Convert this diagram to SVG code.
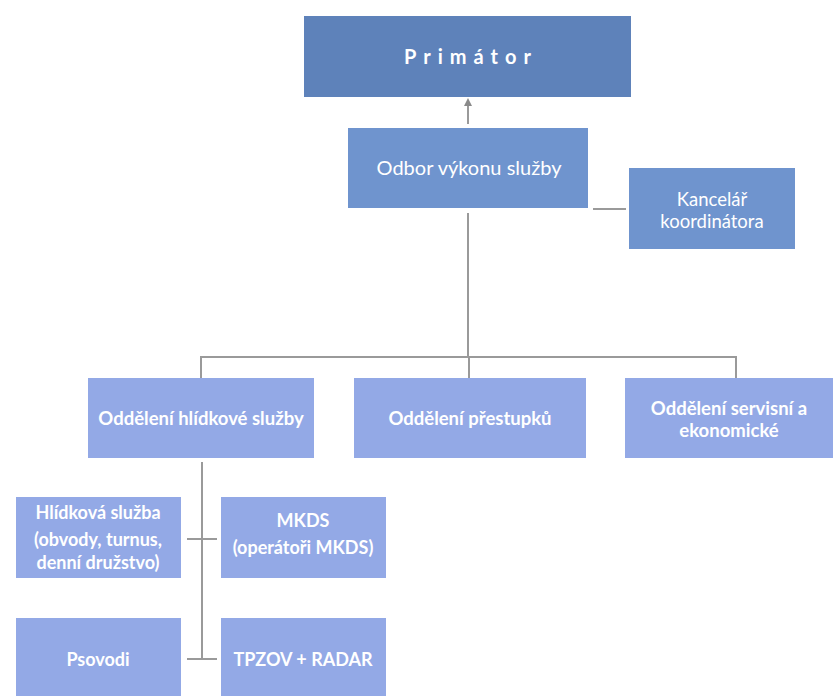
<svg xmlns="http://www.w3.org/2000/svg" width="835" height="696" viewBox="0 0 835 696">
<defs>
<style>
.top{fill:#5e82ba;}
.mid{fill:#6f94ce;}
.low{fill:#93a9e6;}
.t{font-family:Lato,"Open Sans","Liberation Sans",sans-serif;fill:#ffffff;text-anchor:middle;}
.tb{font-weight:bold;}
.ln{stroke:#9a9a9a;stroke-width:2;fill:none;}
</style>
<marker id="ah" viewBox="0 0 6 6" refX="3" refY="3" markerWidth="4" markerHeight="4" orient="auto">
<path d="M0,0 L6,3 L0,6 z" fill="#8a8a8a"/>
</marker>
</defs>
<rect width="835" height="696" fill="#ffffff"/>
<g id="connectors">
<line class="ln" x1="468" y1="124" x2="468" y2="102" marker-end="url(#ah)"/>
<line class="ln" x1="468" y1="213" x2="468" y2="357"/>
<line class="ln" x1="593" y1="209" x2="626" y2="209"/>
<polyline class="ln" points="201,378 201,357 736,357 736,378"/>
<line class="ln" x1="469" y1="357" x2="469" y2="378"/>
<line class="ln" x1="202" y1="462" x2="202" y2="660"/>
<line class="ln" x1="187" y1="539" x2="217" y2="539"/>
<line class="ln" x1="187" y1="659" x2="217" y2="659"/>
</g>
<g id="primator">
<rect class="top" x="304" y="16" width="327" height="81"/>
<text class="t tb" x="471" y="64" font-size="20" letter-spacing="7">Primátor</text>
</g>
<g id="odbor">
<rect class="mid" x="348" y="128" width="240" height="80"/>
<text class="t" x="469" y="175" font-size="20">Odbor výkonu služby</text>
</g>
<g id="kancelar">
<rect class="mid" x="629" y="168" width="166" height="81"/>
<text class="t" x="712" y="206" font-size="18.5">Kancelář</text>
<text class="t" x="712" y="228" font-size="18.5">koordinátora</text>
</g>
<g id="hlidkova-oddeleni">
<rect class="low" x="88" y="378" width="226" height="80"/>
<text class="t tb" x="201" y="425" font-size="18.5">Oddělení hlídkové služby</text>
</g>
<g id="prestupky">
<rect class="low" x="354" y="378" width="232" height="80"/>
<text class="t tb" x="470" y="425" font-size="18.5">Oddělení přestupků</text>
</g>
<g id="servisni">
<rect class="low" x="625" y="378" width="208" height="80"/>
<text class="t tb" x="729" y="415" font-size="18.5">Oddělení servisní a</text>
<text class="t tb" x="729" y="437" font-size="18.5">ekonomické</text>
</g>
<g id="hlidkova-sluzba">
<rect class="low" x="16" y="497" width="165" height="81"/>
<text class="t tb" x="98" y="519" font-size="18">Hlídková služba</text>
<text class="t tb" x="98" y="546" font-size="18">(obvody, turnus,</text>
<text class="t tb" x="98" y="569" font-size="18">denní družstvo)</text>
</g>
<g id="mkds">
<rect class="low" x="221" y="497" width="165" height="81"/>
<text class="t tb" x="303" y="527" font-size="18">MKDS</text>
<text class="t tb" x="303" y="554" font-size="18">(operátoři MKDS)</text>
</g>
<g id="psovodi">
<rect class="low" x="16" y="618" width="165" height="80"/>
<text class="t tb" x="98" y="666" font-size="18">Psovodi</text>
</g>
<g id="tpzov">
<rect class="low" x="221" y="618" width="165" height="80"/>
<text class="t tb" x="303" y="666" font-size="18">TPZOV + RADAR</text>
</g>
</svg>
